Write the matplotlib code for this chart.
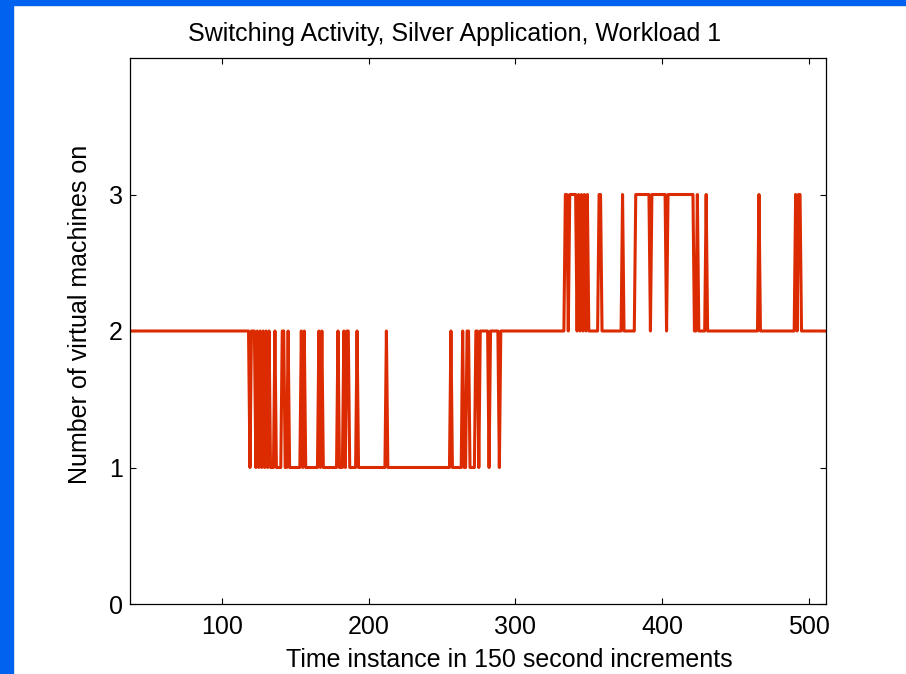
"""Switching activity of the Silver application (workload 1)."""

import matplotlib
matplotlib.use("Agg")
import matplotlib.pyplot as plt
import numpy as np
from matplotlib.patches import Rectangle

plt.rcParams["font.family"] = ["Liberation Sans", "DejaVu Sans"]

# number of VMs on: level holds from each switch time until the next one
switch_t = [
    1, 119, 120, 123,
    124, 125, 126, 127, 128, 129, 130, 131, 132, 133,
    136, 137, 141, 143, 145, 146,
    154, 155, 156, 157, 166, 167, 168, 169,
    179, 180, 183, 184, 185, 187, 192, 193, 212, 213,
    256, 257, 264, 265, 267, 269,
    273, 275, 276, 282, 283, 289, 290,
    334, 336, 337, 342,
    343, 344, 345, 346, 347, 348, 349, 350, 351,
    357, 359, 373, 374,
    382, 392, 393, 403, 404, 422, 424, 425,
    430, 431, 466, 467,
    491, 492, 493, 495,
]
switch_level = [
    2, 1, 2, 1,
    2, 1, 2, 1, 2, 1, 2, 1, 2, 1,
    2, 1, 2, 1, 2, 1,
    2, 1, 2, 1, 2, 1, 2, 1,
    2, 1, 2, 1, 2, 1, 2, 1, 2, 1,
    2, 1, 2, 1, 2, 1,
    2, 1, 2, 1, 2, 1, 2,
    3, 2, 3, 2,
    3, 2, 3, 2, 3, 2, 3, 2, 2,
    3, 2, 3, 2,
    3, 2, 3, 2, 3, 2, 3, 2,
    3, 2, 3, 2,
    3, 2, 3, 2,
]
t_last = 512

title = "Switching Activity, Silver Application, Workload 1"
xlabel = "Time instance in 150 second increments"
ylabel = "Number of virtual machines on"

t = np.arange(1, t_last + 1)
idx = np.searchsorted(switch_t, t, side="right") - 1
vms = np.asarray(switch_level)[idx]

fig = plt.figure(figsize=(9.06, 6.74), dpi=100)
fig.patches.append(Rectangle((0, 0), 13 / 906, 1, transform=fig.transFigure,
                             color="#0062EE", zorder=0))
fig.patches.append(Rectangle((0, 1 - 5 / 674), 1, 5 / 674, transform=fig.transFigure,
                             color="#0062EE", zorder=0))

ax = fig.add_axes([130 / 906, 1 - 604 / 674, 696 / 906, 546 / 674])
ax.plot(t, vms, color="#DC2B00", linewidth=2.2)

ax.set_xlim(37.2, 511.7)
ax.set_ylim(0, 4)
ax.set_xticks([100, 200, 300, 400, 500])
ax.set_yticks([0, 1, 2, 3])
ax.tick_params(direction="in", top=True, right=True, length=4, width=0.8,
               labelsize=18, pad=5)
ax.tick_params(axis="x", pad=8)
for s in ax.spines.values():
    s.set_linewidth(0.9)

# the original labels are not centred on the axes
ax.set_title(title, fontsize=18, pad=12, x=0.467)
ax.set_xlabel(xlabel, fontsize=18)
ax.xaxis.set_label_coords(0.545, -0.08)
ax.set_ylabel(ylabel, fontsize=18)
ax.yaxis.set_label_coords(-0.054, 0.53)

fig.savefig("out.png", dpi=100)
plt.close(fig)
